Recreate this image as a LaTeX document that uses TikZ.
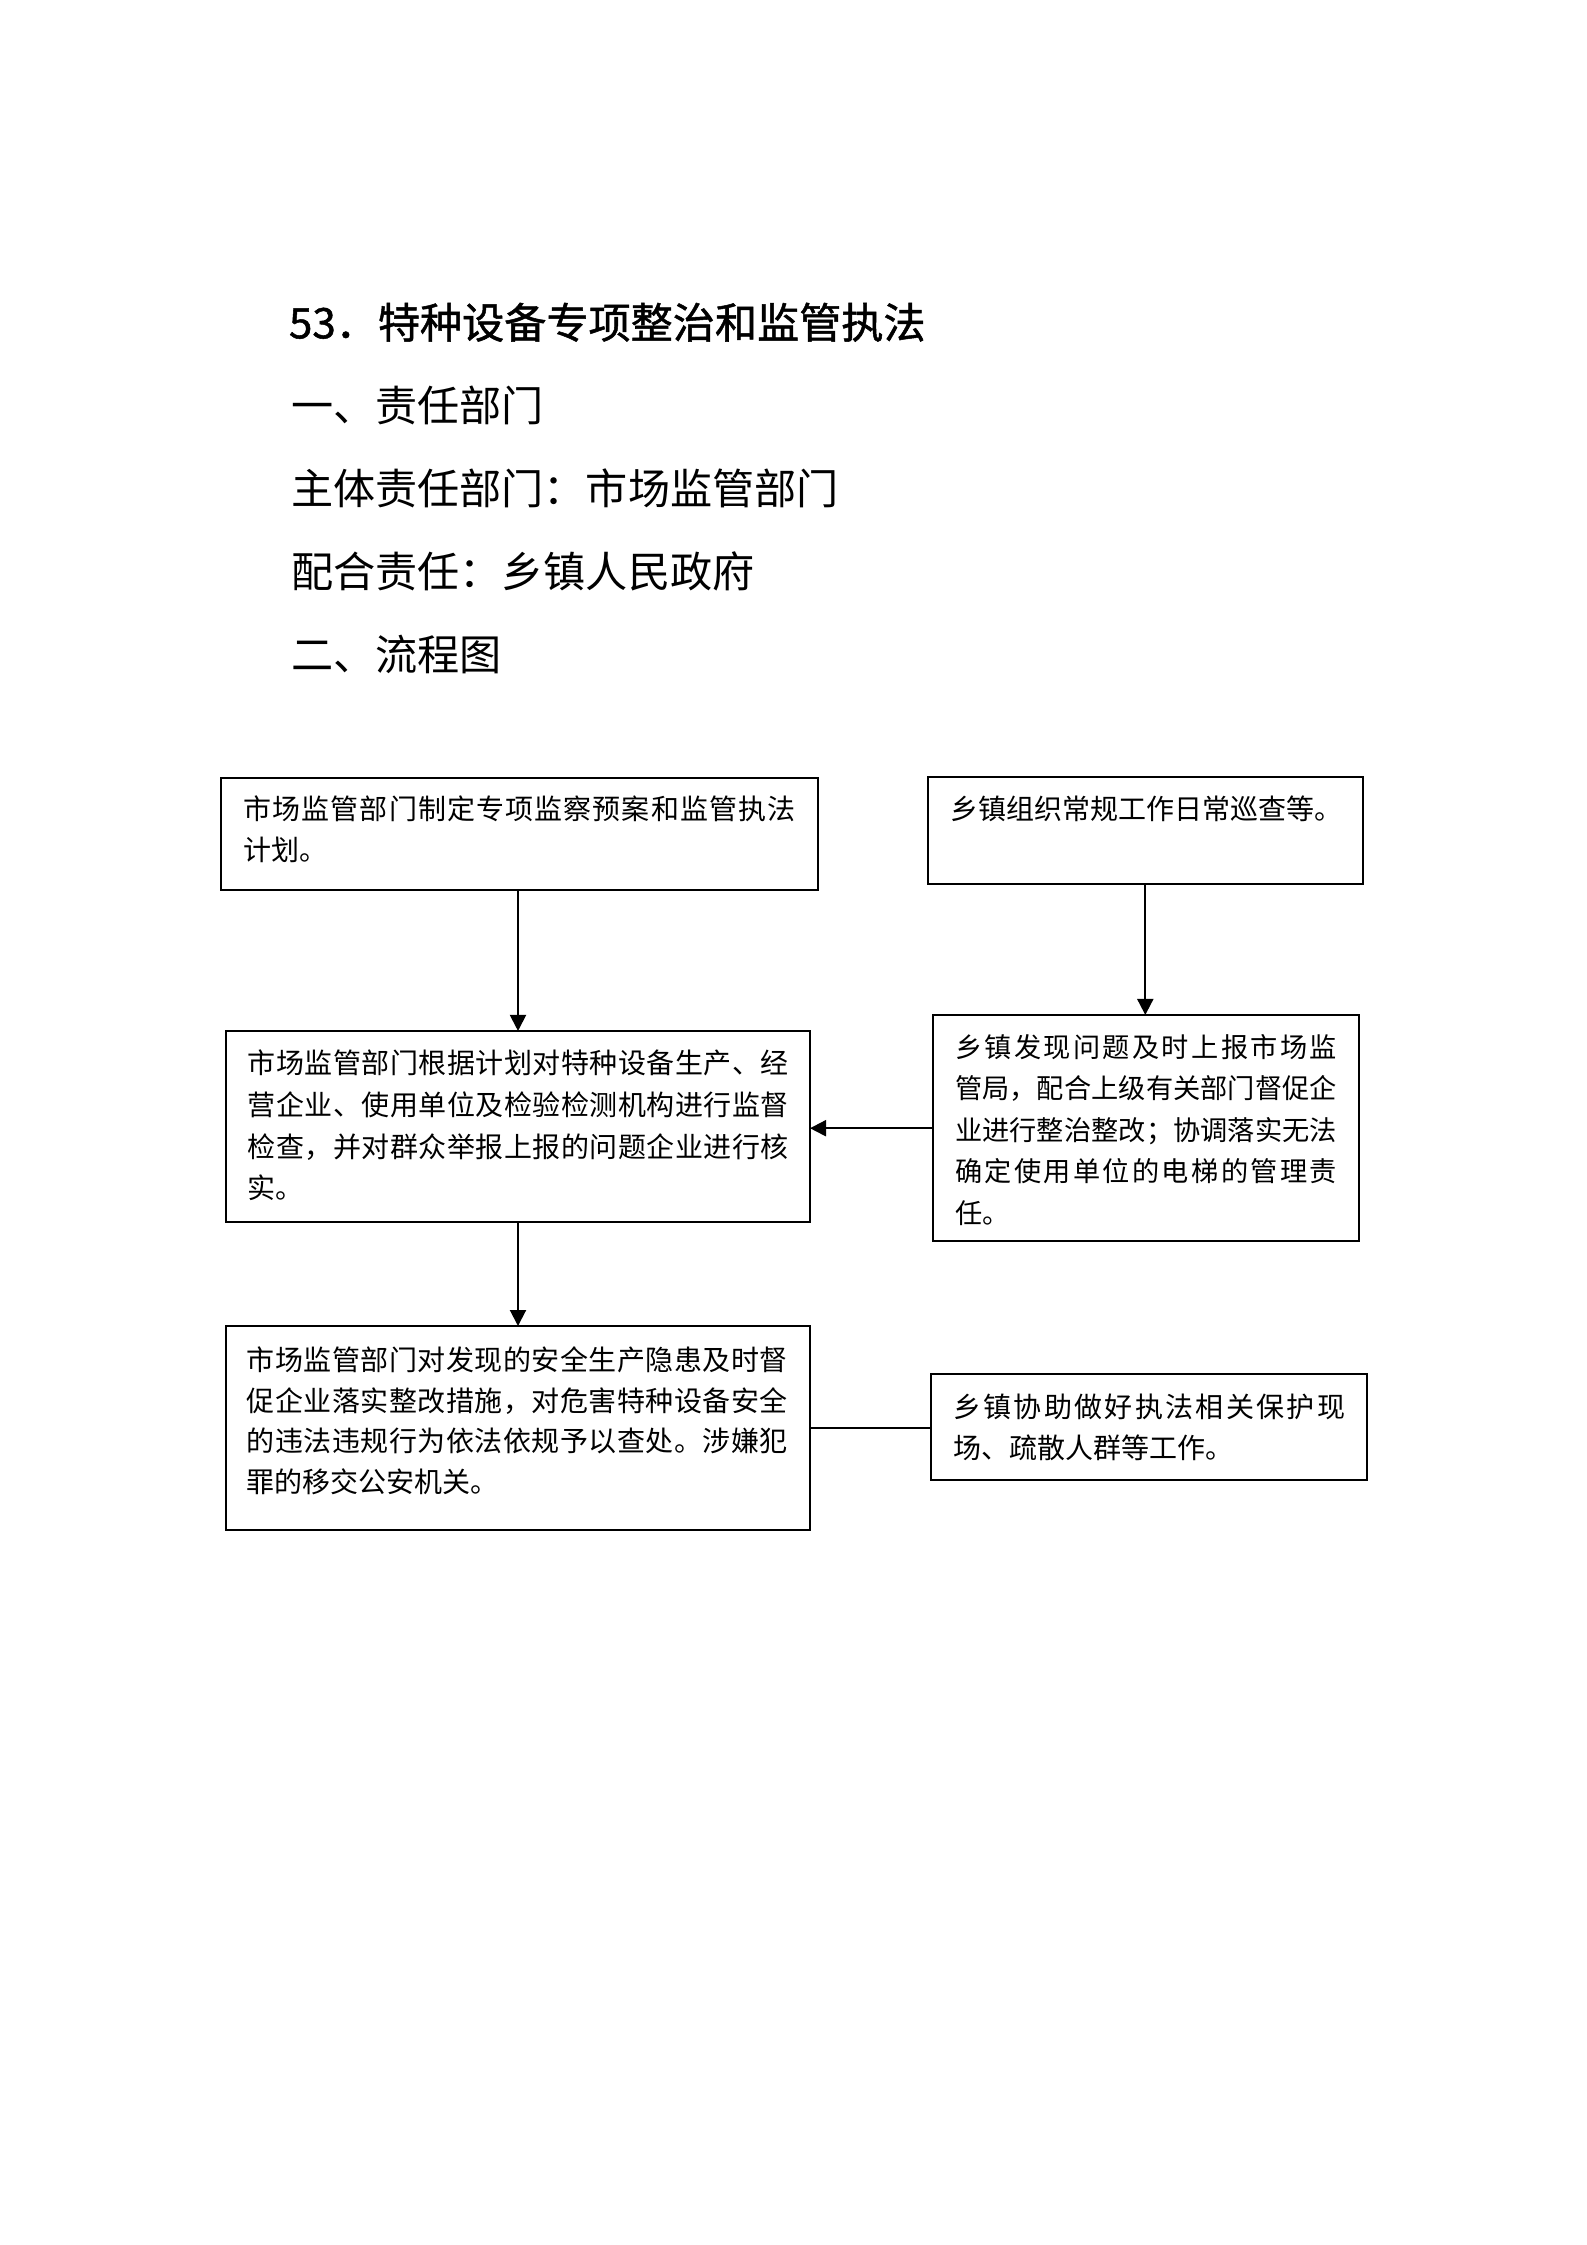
\documentclass[tikz,border=0pt]{standalone}
\usepackage{fontspec}
\setmainfont{Noto Sans CJK SC}
\newfontfamily\titlefont[FakeBold=1.2]{Noto Sans CJK SC}
\usetikzlibrary{arrows.meta}
\def\sprd#1#2{#1\ifx\relax#2\else\hfill\expandafter\sprd\expandafter#2\fi}
\newcommand\jl[2]{\makebox[#1][l]{\sprd#2\relax}}
\tikzset{
  box/.style={draw, line width=0.75pt, inner sep=0pt, outer sep=0pt, rectangle},
  txt/.style={inner sep=0pt, outer sep=0pt, anchor=base west, font=\fontsize{10.5pt}{12pt}\selectfont},
  txtd/.style={txt, font=\fontsize{10.2pt}{12pt}\selectfont},
  head/.style={inner sep=0pt, outer sep=0pt, anchor=base west, font=\fontsize{15.8pt}{18pt}\selectfont},
  arr/.style={line width=0.75pt, -{Triangle[length=6pt, width=6pt]}},
  link/.style={line width=0.75pt}
}
\begin{document}
\begin{tikzpicture}[x=0.375pt, y=-0.375pt]
\useasboundingbox[fill=white] (0,0) rectangle (1587,2245);

% headings
\node[head, font=\titlefont\fontsize{15.8pt}{18pt}\selectfont] (h1) at (289,338.3) {53．特种设备专项整治和监管执法};
\node[head] (h2) at (291,421.3) {一、责任部门};
\node[head] (h3) at (291,504.4) {主体责任部门：市场监管部门};
\node[head] (h4) at (291,587.5) {配合责任：乡镇人民政府};
\node[head] (h5) at (291,670.6) {二、流程图};

% boxes
\node[box, minimum width=223.95pt, minimum height=41.93pt] (A) at (519.2,833.6) {};
\node[box, minimum width=162.94pt, minimum height=40.13pt] (B) at (1145.3,830.5) {};
\node[box, minimum width=219pt, minimum height=71.51pt] (C) at (518,1126.3) {};
\node[box, minimum width=160.05pt, minimum height=84.94pt] (D) at (1145.9,1128.2) {};
\node[box, minimum width=219pt, minimum height=76.5pt] (E) at (518,1428) {};
\node[box, minimum width=163.5pt, minimum height=39.75pt] (F) at (1149,1427) {};

% box A text
\node[txt] (a1) at (243.5,819.9) {\jl{207pt}{市场监管部门制定专项监察预案和监管执法}};
\node[txt] (a2) at (243.5,860.6) {计划。};
% box B text
\node[txt] (b1) at (950,819.9) {乡镇组织常规工作日常巡查等。};
% box C text
\node[txt] (c1) at (247.7,1073.9) {\jl{202.9pt}{市场监管部门根据计划对特种设备生产、经}};
\node[txt] (c2) at (247.7,1115.6) {\jl{202.9pt}{营企业、使用单位及检验检测机构进行监督}};
\node[txt] (c3) at (247.7,1157.3) {\jl{202.9pt}{检查，并对群众举报上报的问题企业进行核}};
\node[txt] (c4) at (247.7,1198.9) {实。};
% box D text
\node[txtd] (d1) at (955,1057.7) {\jl{143.25pt}{乡镇发现问题及时上报市场监}};
\node[txtd] (d2) at (955,1098.7) {\jl{143.25pt}{管局，配合上级有关部门督促企}};
\node[txtd] (d3) at (955,1140.4) {\jl{143.25pt}{业进行整治整改；协调落实无法}};
\node[txtd] (d4) at (955,1181.1) {\jl{143.25pt}{确定使用单位的电梯的管理责}};
\node[txtd] (d5) at (955,1223.7) {任。};
% box E text
\node[txt] (e1) at (246.8,1370.6) {\jl{202.9pt}{市场监管部门对发现的安全生产隐患及时督}};
\node[txt] (e2) at (246.8,1411.1) {\jl{202.9pt}{促企业落实整改措施，对危害特种设备安全}};
\node[txt] (e3) at (246.8,1451.6) {\jl{202.9pt}{的违法违规行为依法依规予以查处。涉嫌犯}};
\node[txt] (e4) at (246.8,1492.1) {罪的移交公安机关。};
% box F text
\node[txt] (f1) at (953.3,1417.3) {\jl{147pt}{乡镇协助做好执法相关保护现}};
\node[txt] (f2) at (953.3,1458.9) {场、疏散人群等工作。};

% connectors
\draw[arr] (C.north |- A.south) -- (C.north);
\draw[arr] (B.south) -- (B.south |- D.north);
\draw[arr] (D.west) -- (D.west -| C.east);
\draw[arr] (C.south) -- (E.north);
\draw[link] (E.east) -- (E.east -| F.west);
\end{tikzpicture}
\end{document}
